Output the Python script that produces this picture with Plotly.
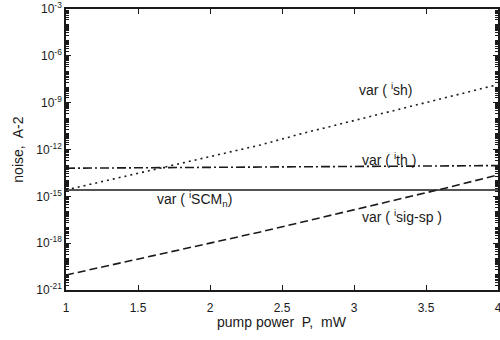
import plotly.graph_objects as go

# Data (log10 of noise, A^2)
p_sh = [1.0, 2.35, 2.63, 3.99]
log_sh = [-14.59, -11.71, -11.0, -7.86]

p_th = [1.0, 4.0]
log_th = [-13.20, -13.03]

p_scm = [1.0, 4.0]
log_scm = [-14.59, -14.59]

p_sig = [1.0, 2.35, 3.61, 4.0]
log_sig = [-20.04, -17.28, -14.53, -13.63]

x_ticks = [1, 1.5, 2, 2.5, 3, 3.5, 4]
x_ticktext = ["1", "1.5", "2", "2.5", "3", "3.5", "4"]
y_exps = [-21, -18, -15, -12, -9, -6, -3]

labels = [
    ("var ( <sup>i</sup>sh)", 3.22, -8.12),
    ("var ( <sup>i</sup>th )", 3.24, -12.6),
    ("var ( <sup>i</sup>SCM<sub>n</sub>)", 1.89, -15.2),
    ("var ( <sup>i</sup>sig-sp )", 3.33, -16.26),
]

ink = "#1a1a1a"
font = "Liberation Sans, Arial, sans-serif"

fig = go.Figure()
for xs, ls, dash in [(p_sh, log_sh, "2px,4px"), (p_th, log_th, "9px,3px,2px,3px"),
                     (p_scm, log_scm, "solid"), (p_sig, log_sig, "8px,4px")]:
    fig.add_trace(go.Scatter(
        x=xs, y=[10 ** v for v in ls], mode="lines",
        line=dict(color=ink, width=1.6, dash=dash), showlegend=False))

for txt, xv, yv in labels:
    fig.add_annotation(x=xv, y=yv, text=txt, showarrow=False,
                       font=dict(family=font, size=14, color=ink))

fig.add_annotation(xref="paper", yref="paper", x=-0.113, y=0.5,
                   xanchor="center", yanchor="middle",
                   text="noise,  A-2", textangle=-90, showarrow=False,
                   font=dict(family=font, size=14, color=ink))
fig.add_annotation(xref="paper", yref="paper", x=0.5, y=-0.114,
                   xanchor="center", yanchor="middle",
                   text="pump power  P,  mW", showarrow=False,
                   font=dict(family=font, size=14, color=ink))

fig.update_xaxes(range=[1, 4], tickmode="array", tickvals=x_ticks,
                 ticktext=x_ticktext, ticks="inside", ticklen=5,
                 tickcolor=ink, showline=True, linecolor=ink, linewidth=1.6,
                 mirror="ticks", showgrid=False, zeroline=False,
                 automargin=False, ticklabelstandoff=6,
                 ticklabeloverflow="allow",
                 tickfont=dict(family=font, size=12, color=ink))
fig.update_yaxes(type="log", range=[-21, -3], tickmode="array",
                 tickvals=[10 ** e for e in y_exps],
                 ticktext=["10<sup>%d</sup>" % e for e in y_exps],
                 ticks="inside", ticklen=5, tickcolor=ink,
                 minor=dict(ticks="inside", ticklen=3, dtick="D1", tickcolor=ink, showgrid=False),
                 showline=True, linecolor=ink, linewidth=1.6, mirror="ticks",
                 showgrid=False, zeroline=False, automargin=False,
                 ticklabeloverflow="allow",
                 tickfont=dict(family=font, size=12, color=ink))

fig.update_layout(width=500, height=340,
                  margin=dict(l=66, r=2, t=9, b=50, autoexpand=False),
                  paper_bgcolor="white", plot_bgcolor="white")

fig.write_html("out.html")
